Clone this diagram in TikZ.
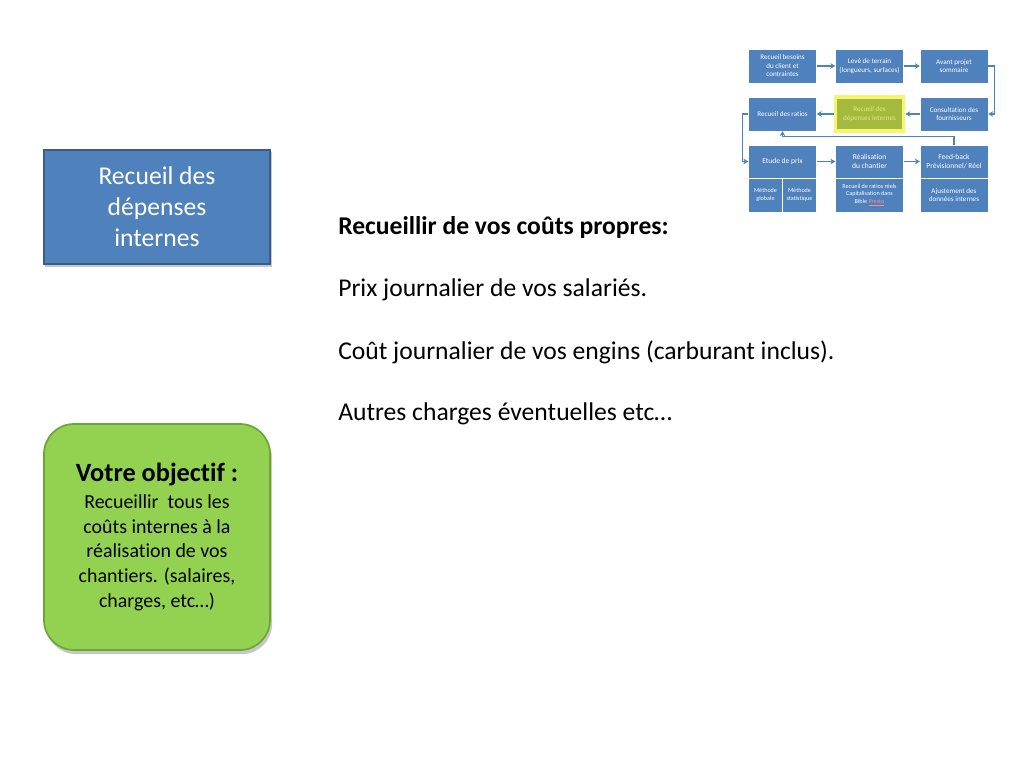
\documentclass[tikz,border=0pt]{standalone}
\usepackage{fontspec}
\setmainfont{Carlito}[Ligatures=NoCommon]
\usepackage{xcolor}
\usetikzlibrary{arrows.meta}
\definecolor{boxblue}{RGB}{79,129,189}
\definecolor{boxedge}{RGB}{56,93,138}
\definecolor{goalgreen}{RGB}{146,210,80}
\definecolor{goaledge}{RGB}{108,166,52}
\definecolor{markolive}{RGB}{163,186,62}
\definecolor{markglow}{RGB}{245,245,110}
\definecolor{marktext}{RGB}{228,230,130}

\tikzset{
  flowbox/.style={draw=white, line width=0.3pt, fill=boxblue, text=white, inner sep=0pt,
    minimum width=47.8pt, minimum height=23.9pt, align=center, font=\fontsize{5}{6}\selectfont},
  flowhead/.style={flowbox, minimum height=23.2pt, font=\fontsize{5.3}{6.6}\selectfont},
  flownote/.style={flowbox, font=\fontsize{4.3}{5.2}\selectfont},
  flowarrow/.style={draw=boxblue, line width=1pt, -{Stealth[length=3.5pt,width=4pt]}},
  bodytext/.style={anchor=west, inner sep=0pt, font=\fontsize{18}{22}\selectfont},
  shadowbox/.style={fill=black, opacity=0.22, inner sep=0pt},
}

\begin{document}
\begin{tikzpicture}[x=0.703125pt, y=-0.703125pt]
		\useasboundingbox[fill=white] (0,0) rectangle (1024,768);
		% left boxes
		\node[shadowbox, minimum width=159pt, minimum height=80.2pt] (topicshadow) at (158.5,209.5) {};
		\node[draw=boxedge, line width=1.4pt, fill=boxblue, text=white, minimum width=158.9pt, minimum height=80.2pt,
			align=center, font=\fontsize{18}{21.8}\selectfont] (topic) at (157,207) {Recueil des\\dépenses\\internes};
		\node[shadowbox, rounded corners=21pt, minimum width=159pt, minimum height=159pt] (goalshadow) at (159,541) {};
		\node[draw=goaledge, line width=1.2pt, fill=goalgreen, rounded corners=21pt,
			minimum width=158.9pt, minimum height=158.9pt, align=center, font=\fontsize{14}{17.3}\selectfont] (goal) at (157,537)
			{{\fontsize{18.5}{21}\selectfont\bfseries Votre objectif :}\\[1.5pt]
			Recueillir\ \ tous les\\coûts internes à la\\réalisation de vos\\chantiers. (salaires,\\charges, etc…)};
		% text
		\node[bodytext, font=\fontsize{18}{22}\selectfont\bfseries] (title) at (338,228) {Recueillir de vos coûts propres:};
		\node[bodytext] (salaries) at (338,290) {Prix journalier de vos salariés.};
		\node[bodytext] (engins) at (338,352) {Coût journalier de vos engins (carburant inclus).};
		\node[bodytext] (autres) at (338,414) {Autres charges éventuelles etc…};
		% small process diagram
		\node[flowbox] (besoins) at (782.5,66) {Recueil besoins\\du client et\\contraintes};
		\node[flowbox] (terrain) at (869.5,66) {Levé de terrain\\(longueurs, surfaces)};
		\node[flowbox] (avant) at (954,66) {Avant projet\\sommaire};
		\node[flowbox] (ratios) at (782.5,114) {Recueil des ratios};
		\node[flowbox, fill=markolive, text=marktext, draw=markglow, line width=2.6pt] (depenses) at (869.5,114) {Recueil des\\dépenses internes};
		\node[flowbox] (fournisseurs) at (954,114) {Consultation des\\fournisseurs};
		\node[flowhead] (etude) at (782.5,161.5) {Etude de prix};
		\node[flowhead] (realisation) at (869.5,161.5) {Réalisation\\du chantier};
		\node[flowhead] (feedback) at (954,161.5) {Feed-back\\Prévisionnel/ Réel};
		\node[flownote, minimum width=23.9pt] (globale) at (765.5,195) {Méthode\\globale};
		\node[flownote, minimum width=23.9pt] (statistique) at (799.5,195) {Méthode\\statistique};
		\node[flownote] (capitalisation) at (869.5,195) {Recueil de ratios réels\\Capitalisation dans\\Bible {\color{red!45}\underline{Presto}}};
		\node[flowbox] (ajustement) at (954,195) {Ajustement des\\données internes};
		% connectors
		\draw[flowarrow] (besoins) -- (terrain);
		\draw[flowarrow] (terrain) -- (avant);
		\draw[flowarrow] (avant.east) -- ++(6,0) |- (fournisseurs.east);
		\draw[flowarrow] (fournisseurs) -- (depenses);
		\draw[flowarrow] (depenses) -- (ratios);
		\draw[flowarrow] (ratios.west) -- ++(-6,0) |- (etude.west);
		\draw[flowarrow] (etude) -- (realisation);
		\draw[flowarrow] (realisation) -- (feedback);
		\draw[flowarrow] (feedback.north) -- ++(0,-8) -| (ratios.south);
	\end{tikzpicture}
\end{document}
